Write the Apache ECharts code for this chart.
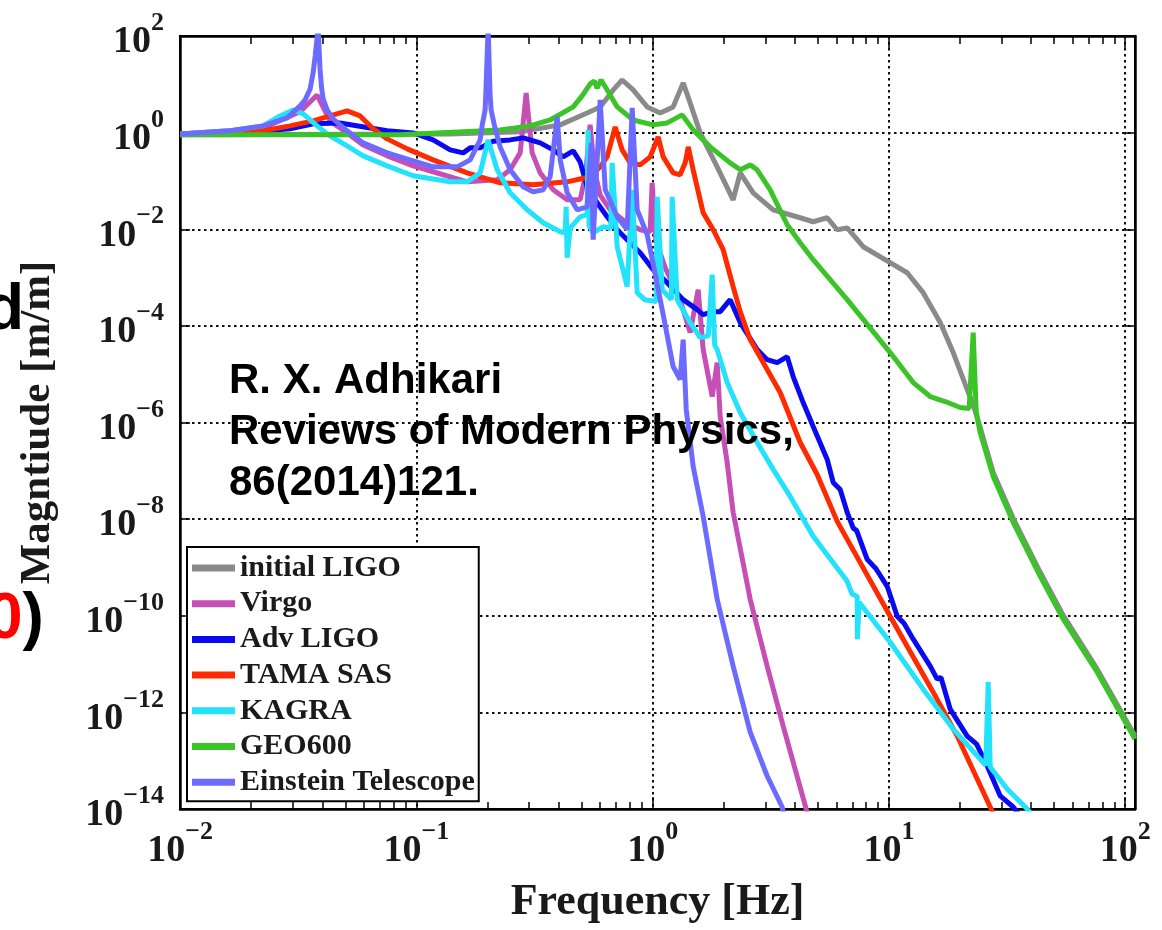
<!DOCTYPE html>
<html><head><meta charset="utf-8">
<script src="https://cdn.jsdelivr.net/npm/echarts@6/dist/echarts.min.js"></script>
<style>html,body{margin:0;padding:0;background:#fff}#c{width:1162px;height:930px}</style>
</head><body><div id="c"></div>
<script>
// ---------- data ----------
const seriesNames = ['initial LIGO','Virgo','Adv LIGO','TAMA SAS','KAGRA','GEO600','Einstein Telescope'];
const seriesColors = ['#8a8a8a','#c64fb6','#0a0af2','#ff2a00','#22e2fc','#3ac428','#6d6bff'];

const initialLIGO = [[0.01,0.9],[0.139,0.94],[0.275,1.04],[0.406,1.45],[0.528,2.56],[0.6,3.41],[0.681,7.65],[0.743,12.3],[0.827,7.65],[0.948,3.41],[1.076,2.56],[1.221,3.41],[1.346,10.7],[1.441,4.12],[1.589,0.988],[1.875,0.196],[2.191,0.0407],[2.347,0.147],[2.664,0.0568],[3.236,0.0253],[4.21,0.0173],[4.779,0.0143],[5.479,0.0173],[6.039,0.00977],[6.658,0.0107],[7.78,0.00435],[10.12,0.00203],[11.95,0.00126],[13.96,4.87e-4],[16.48,1.17e-4],[18.71,2.8e-5],[21.44,4.81e-6],[22.73,2.35e-6],[24.33,7.9e-7],[27.62,9.25e-8],[33.57,1.04e-8],[43.68,7.93e-10],[54.67,1.02e-10],[76.12,7.83e-12],[110,3.23e-13]];

const virgo = [[0.01,0.94],[0.0163,1.09],[0.0225,1.25],[0.0322,2.7],[0.038,6.0],[0.0431,1.75],[0.0509,0.988],[0.0595,0.558],[0.0752,0.331],[0.0969,0.205],[0.1177,0.155],[0.164,0.0959],[0.2197,0.1055],[0.2494,0.17],[0.2749,0.381],[0.2915,6.63],[0.309,0.381],[0.3341,0.147],[0.3793,0.0655],[0.4346,0.0407],[0.4933,0.0407],[0.52,0.134],[0.5437,1.45],[0.566,0.17],[0.5995,0.051],[0.661,0.0253],[0.765,0.0143],[0.8855,0.00977],[0.976,0.0089],[0.995,0.0915],[1.03,0.00607],[1.13,0.0016],[1.307,3.49e-4],[1.441,7.25e-5],[1.558,5.62e-4],[1.636,3.23e-5],[1.786,3.45e-6],[1.875,1.74e-5],[1.931,1.33e-6],[2.067,1.49e-7],[2.191,1.38e-8],[2.587,2.19e-10],[3.052,9.04e-12],[3.568,5.2e-13],[4.464,1e-14],[4.65,5e-15]];

const advLIGO = [[0.01,0.94],[0.0198,1.03],[0.0292,1.2],[0.0366,1.52],[0.0475,1.59],[0.0637,1.25],[0.0752,1.09],[0.0969,0.988],[0.1177,0.708],[0.139,0.44],[0.1578,0.381],[0.1689,0.484],[0.1862,0.484],[0.2113,0.66],[0.2494,0.708],[0.2831,0.779],[0.3341,0.614],[0.3793,0.44],[0.418,0.315],[0.4608,0.42],[0.4933,0.248],[0.5282,0.0756],[0.5822,0.0353],[0.6418,0.0181],[0.7076,0.00977],[0.7801,0.00607],[0.8855,0.00327],[1.005,0.00146],[1.152,7.83e-4],[1.346,3.49e-4],[1.543,2.17e-4],[1.636,1.71e-4],[1.804,1.97e-4],[1.931,1.97e-4],[2.128,3.49e-4],[2.347,1.17e-4],[2.769,3.23e-5],[3.052,2.0e-5],[3.365,1.74e-5],[3.71,2.31e-5],[3.933,8.93e-6],[4.335,2.59e-6],[4.779,8.27e-7],[5.479,1.72e-7],[5.808,5.75e-8],[6.218,4.12e-8],[6.658,1.38e-8],[7.06,6.5e-9],[7.3,5.8e-9],[8.09,1.47e-9],[8.8,9.5e-10],[9.83,4.07e-10],[10.84,9.76e-11],[11.6,6.9e-11],[12.67,3.27e-11],[14.95,9.04e-12],[16.0,4.87e-12],[16.6,5.3e-12],[18.16,1.17e-12],[21.44,3.23e-13],[23.5,2.2e-13],[26.06,7.74e-14],[29.58,1.86e-14],[33.57,1.1e-14],[35.94,7e-15]];

const tamaSAS = [[0.01,0.94],[0.02245,1.09],[0.0292,1.38],[0.0366,1.75],[0.0431,2.22],[0.0509,2.82],[0.0578,2.22],[0.0656,1.2],[0.0752,0.743],[0.0914,0.461],[0.1177,0.273],[0.164,0.147],[0.2262,0.0915],[0.312,0.0831],[0.4346,0.0959],[0.5437,0.122],[0.5995,0.196],[0.6418,0.315],[0.6939,1.31],[0.743,0.44],[0.8033,0.237],[0.8855,0.215],[0.9759,0.315],[1.055,0.817],[1.108,0.315],[1.221,0.147],[1.307,0.134],[1.373,0.237],[1.414,0.507],[1.484,0.17],[1.636,0.0219],[1.804,0.00977],[1.988,0.00377],[2.191,6.48e-4],[2.347,1.97e-4],[2.587,5.2e-5],[2.936,1.74e-5],[3.465,4.17e-6],[4.21,3.86e-7],[4.969,8.4e-8],[6.039,8.98e-9],[10.12,9.76e-11],[15.39,2.62e-12],[19.45,3.23e-13],[26.83,1.1e-14],[28.2,6.5e-15]];

const kagra = [[0.01,0.94],[0.0163,1.09],[0.02245,1.38],[0.0265,2.22],[0.0301,2.95],[0.0332,2.44],[0.038,1.38],[0.0431,0.857],[0.0509,0.532],[0.0595,0.331],[0.0752,0.205],[0.0969,0.128],[0.139,0.0959],[0.164,0.0959],[0.1862,0.147],[0.2012,0.708],[0.2197,0.17],[0.2494,0.0568],[0.2943,0.0253],[0.344,0.0136],[0.4061,0.00888],[0.4262,0.00847],[0.4304,0.0292],[0.4346,0.00258],[0.4475,0.0107],[0.4933,0.0181],[0.528,0.02],[0.5333,1.14],[0.538,0.012],[0.5599,0.00847],[0.6173,0.0113],[0.665,0.0105],[0.674,0.237],[0.7076,0.00435],[0.7801,6.48e-4],[0.8192,0.0655],[0.86,4.87e-4],[0.925,3.49e-4],[1.035,3.2e-4],[1.045,0.047],[1.097,5.62e-4],[1.2,3.5e-4],[1.209,0.047],[1.27,3.49e-4],[1.441,1.17e-4],[1.589,5.71e-5],[1.72,6.2e-5],[1.786,1.15e-3],[1.83,4e-5],[1.875,3.23e-5],[2.067,6.71e-6],[2.347,1.61e-6],[2.769,3.86e-7],[3.236,1.07e-7],[3.82,2.95e-8],[4.779,4.4e-9],[6.658,5.17e-10],[6.99,2.78e-10],[7.341,2.53e-10],[7.35,3.27e-11],[7.48,1.9e-10],[10.12,2.83e-11],[13.96,3.02e-12],[18.71,4.5e-13],[24.33,1.08e-13],[25.7,8e-14],[26.31,4.22e-12],[26.83,7.4e-14],[31.66,2.59e-14],[37.74,1.1e-14],[40.4,7.5e-15]];

const geo600 = [[0.01,0.9],[0.085,0.9],[0.226,1.14],[0.303,1.38],[0.368,1.83],[0.461,3.41],[0.503,5.75],[0.544,10.2],[0.566,11.7],[0.582,8.42],[0.605,12.3],[0.642,7.65],[0.708,3.41],[0.827,1.83],[1.005,1.45],[1.152,1.59],[1.333,2.33],[1.484,1.14],[1.752,0.507],[2.128,0.237],[2.347,0.17],[2.587,0.215],[2.769,0.17],[3.143,0.0655],[3.71,0.0124],[4.21,0.00526],[4.779,0.00234],[6.658,3.49e-4],[10.12,2.8e-5],[12.67,6.71e-6],[14.95,3.45e-6],[17.3,2.72e-6],[20.03,2.04e-6],[21.86,1.95e-6],[22.73,7.25e-5],[23.4,1.69e-6],[24.33,6.21e-7],[27.62,7.66e-8],[33.57,8.57e-9],[43.68,6.55e-10],[54.67,8.47e-11],[76.12,6.79e-12],[110,2.8e-13]];

const einstein = [[0.01,0.94],[0.0163,1.09],[0.02245,1.38],[0.0284,2.02],[0.0322,3.57],[0.0338,4.75],[0.0355,8.02],[0.0366,18.0],[0.0373,38.6],[0.0384,150],[0.0391,20.8],[0.0397,8.42],[0.0403,4.99],[0.0419,2.95],[0.0444,1.92],[0.0509,1.09],[0.0595,0.614],[0.0752,0.381],[0.0969,0.261],[0.1177,0.196],[0.1488,0.196],[0.1689,0.273],[0.1862,0.708],[0.19,1.45],[0.1954,2.95],[0.197,7.65],[0.2012,150],[0.2051,6.0],[0.2072,2.95],[0.2136,1.45],[0.2262,0.507],[0.2494,0.17],[0.2831,0.0756],[0.312,0.0596],[0.344,0.0655],[0.3683,0.122],[0.3944,2.12],[0.4061,0.273],[0.4346,0.0568],[0.479,0.0253],[0.528,0.0292],[0.55,0.614],[0.56,0.00607],[0.5995,4.75],[0.63,0.0655],[0.7076,0.0181],[0.78,0.00977],[0.8192,3.25],[0.86,0.0253],[0.948,0.0077],[1.005,0.0019],[1.108,1.71e-4],[1.221,1.44e-5],[1.307,7.74e-6],[1.346,5.2e-5],[1.387,1.86e-6],[1.484,1.23e-7],[1.636,1.14e-8],[1.875,2.19e-10],[2.191,9.04e-12],[2.587,3.9e-13],[3.052,4.81e-14],[3.533,1.1e-14],[3.64,5.6e-15]];

const seriesData = [initialLIGO, virgo, advLIGO, tamaSAS, kagra, geo600, einstein];

// tick values
const xMajorTicks = [0.01, 0.1, 1, 10, 100];
const xMinorTicks = [0.02,0.03,0.04,0.05,0.06,0.07,0.08,0.09,0.2,0.3,0.4,0.5,0.6,0.7,0.8,0.9,2,3,4,5,6,7,8,9,20,30,40,50,60,70,80,90];
const yTicks = [1e-14, 1e-12, 1e-10, 1e-8, 1e-6, 1e-4, 1e-2, 1, 100];

const annotationLines = ['R. X. Adhikari', 'Reviews of Modern Physics,', '86(2014)121.'];

// ---------- styling ----------
const SERIF = '"Liberation Serif", "Times New Roman", serif';
const SANS = '"Liberation Sans", Arial, sans-serif';
const TXT = '#1a1a1a';
function powLabel(v) {
  const e = Math.round(Math.log10(v));
  return '{s|\u200b}{b|10}{e|' + (e < 0 ? '\u2212' + (-e) : String(e)) + '}';
}
const rich = {
  s: {fontSize: 2, lineHeight: 51, verticalAlign: 'middle', color: 'rgba(0,0,0,0)'},
  b: {fontFamily: SERIF, fontWeight: 'bold', fontSize: 38, lineHeight: 40, verticalAlign: 'bottom', color: TXT},
  e: {fontFamily: SERIF, fontWeight: 'bold', fontSize: 26, lineHeight: 25, verticalAlign: 'top', color: TXT}
};
const XMIN = 0.00999, XMAX = 110, YMIN = 9.99e-15, YMAX = 100.1;
const gridLine = {show: true, lineStyle: {color: '#111', width: 2, type: [2.5, 3.5]}};
const tickStyle = {color: '#000', width: 1.5};

const chart = echarts.init(document.getElementById('c'), null, {renderer: 'canvas'});
chart.setOption({
  animation: false,
  backgroundColor: '#fff',
  grid: [
    {left: 180, right: 27, top: 36, bottom: 120, show: true, borderColor: '#000', borderWidth: 2},
    {left: 180, right: 27, top: 36, bottom: 120, show: false}
  ],
  xAxis: [
    {gridIndex: 0, type: 'log', logBase: 10, min: XMIN, max: XMAX, position: 'bottom',
     axisLine: {show: true, lineStyle: {color: '#000', width: 2.5}},
     axisTick: {show: true, inside: true, length: 12, customValues: xMajorTicks, lineStyle: tickStyle},
     axisLabel: {show: true, customValues: xMajorTicks, formatter: powLabel, rich: rich, margin: 10},
     splitLine: gridLine,
     name: 'Frequency [Hz]', nameLocation: 'middle', nameGap: 72,
     nameTextStyle: {fontFamily: SERIF, fontWeight: 'bold', fontSize: 44, color: TXT}},
    {gridIndex: 0, type: 'log', logBase: 10, min: XMIN, max: XMAX, position: 'top',
     axisLine: {show: true, lineStyle: {color: '#000', width: 2.5}},
     axisTick: {show: true, inside: true, length: 8, customValues: xMinorTicks, lineStyle: tickStyle},
     axisLabel: {show: false}, splitLine: {show: false}},
    {gridIndex: 1, type: 'log', logBase: 10, min: XMIN, max: XMAX, position: 'bottom',
     axisLine: {show: false},
     axisTick: {show: true, inside: true, length: 8, customValues: xMinorTicks, lineStyle: tickStyle},
     axisLabel: {show: false}, splitLine: {show: false}},
    {gridIndex: 1, type: 'log', logBase: 10, min: XMIN, max: XMAX, position: 'top',
     axisLine: {show: false},
     axisTick: {show: true, inside: true, length: 12, customValues: xMajorTicks, lineStyle: tickStyle},
     axisLabel: {show: false}, splitLine: {show: false}}
  ],
  yAxis: [
    {gridIndex: 0, type: 'log', logBase: 10, min: YMIN, max: YMAX, position: 'left',
     axisLine: {show: true, lineStyle: {color: '#000', width: 2.5}},
     axisTick: {show: true, inside: true, length: 10, customValues: yTicks, lineStyle: tickStyle},
     axisLabel: {show: true, customValues: yTicks, formatter: powLabel, rich: rich, margin: 16},
     splitLine: gridLine,
     name: 'Magntiude [m/m]', nameLocation: 'middle', nameGap: 121,
     nameTextStyle: {fontFamily: SERIF, fontWeight: 'bold', fontSize: 43, color: TXT}},
    {gridIndex: 0, type: 'log', logBase: 10, min: YMIN, max: YMAX, position: 'right',
     axisLine: {show: true, lineStyle: {color: '#000', width: 2.5}},
     axisTick: {show: true, inside: true, length: 10, customValues: yTicks, lineStyle: tickStyle},
     axisLabel: {show: false}, splitLine: {show: false}},
    {gridIndex: 1, type: 'log', logBase: 10, min: YMIN, max: YMAX, show: false}
  ],
  legend: {
    orient: 'vertical', left: 187, top: 547, selectedMode: false,
    padding: [6, 4, 4, 5], itemGap: 5.7, itemWidth: 43, itemHeight: 7, icon: 'rect',
    borderColor: '#000', borderWidth: 2, backgroundColor: '#fff', z: 10,
    textStyle: {fontFamily: SERIF, fontWeight: 'bold', fontSize: 30, lineHeight: 30, color: TXT},
    data: seriesNames
  },
  series: seriesNames.map((name, i) => ({
    name: name, type: 'line', xAxisIndex: 0, yAxisIndex: 0,
    data: seriesData[i], showSymbol: false, symbol: 'none', clip: true,
    lineStyle: {width: 5, color: seriesColors[i]},
    itemStyle: {color: seriesColors[i]},
    emphasis: {disabled: true}, silent: true
  })),
  graphic: [
    {type: 'text', x: 229, y: 381, z: 100, style: {text: annotationLines[0], fontFamily: SANS, fontWeight: 'bold', fontSize: 42, fill: '#000', align: 'left', verticalAlign: 'middle'}},
    {type: 'text', x: 229, y: 432, z: 100, style: {text: annotationLines[1], fontFamily: SANS, fontWeight: 'bold', fontSize: 42, fill: '#000', align: 'left', verticalAlign: 'middle'}},
    {type: 'text', x: 229, y: 483, z: 100, style: {text: annotationLines[2], fontFamily: SANS, fontWeight: 'bold', fontSize: 42, fill: '#000', align: 'left', verticalAlign: 'middle'}},
    {type: 'text', x: -15, y: 311, z: 100, style: {text: 'd', fontFamily: SANS, fontWeight: 'bold', fontSize: 64, fill: '#000', align: 'left', verticalAlign: 'middle'}},
    {type: 'text', x: -13, y: 620, z: 100, style: {text: '{r|0}{k|)}', fontFamily: SANS, fontWeight: 'bold', fontSize: 64, align: 'left', verticalAlign: 'middle',
      rich: {r: {fill: '#ff0000', color: '#ff0000', fontFamily: SANS, fontWeight: 'bold', fontSize: 64}, k: {fill: '#000', color: '#000', fontFamily: SANS, fontWeight: 'bold', fontSize: 64}}}}
  ]
});
</script>
</body></html>
